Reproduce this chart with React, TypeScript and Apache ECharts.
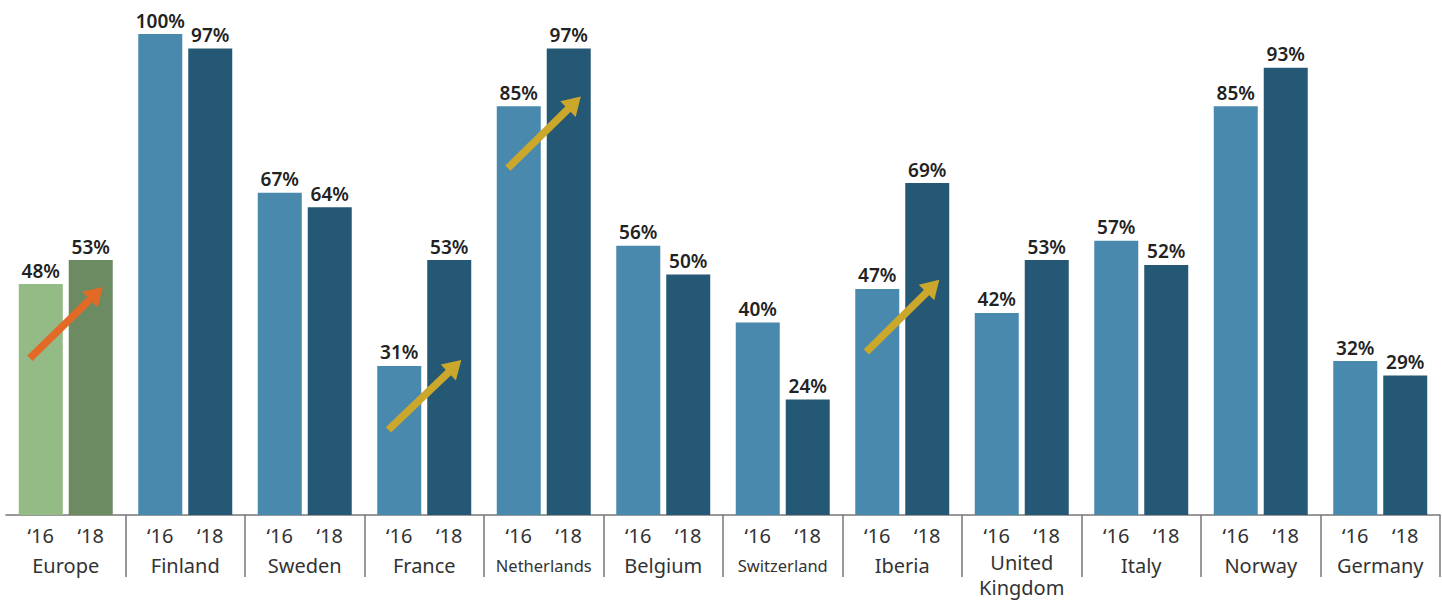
import React, { useEffect, useRef } from "react";
import * as echarts from "echarts";

const categories = ["Europe", "Finland", "Sweden", "France", "Netherlands", "Belgium", "Switzerland", "Iberia", "United Kingdom", "Italy", "Norway", "Germany"];
const values2016 = [48, 100, 67, 31, 85, 56, 40, 47, 42, 57, 85, 32];
const values2018 = [53, 97, 64, 53, 97, 50, 24, 69, 53, 52, 93, 29];
const yearLabels = ["‘16", "‘18"];

// arrows: [categoryIndex, startValue, endValue]
const arrowCategories = [0, 3, 4, 7];
const arrowStartValues = [32.6, 17.7, 72.1, 33.9];
const arrowEndValues = [47.4, 32.2, 87.0, 48.9];
const arrowColors = ["#e36a26", "#cba82c", "#cba82c", "#cba82c"];

const BLUE16 = "#4a89ae";
const BLUE18 = "#255874";
const GREEN16 = "#94ba86";
const GREEN18 = "#6c8b63";

const FONT = "'Noto Sans', sans-serif";

export default function App() {
  const ref = useRef<HTMLDivElement>(null);
  useEffect(() => {
    if (!ref.current) return;
    const chart = echarts.init(ref.current, null, { renderer: "svg" });
    const labelCfg = {
      show: true,
      position: "top",
      distance: 4,
      formatter: "{c}%",
      fontFamily: FONT,
      fontSize: 19,
      fontWeight: 600,
      color: "#222",
    };
    const arrowData = arrowCategories.map((c, i) => [c, arrowStartValues[i], arrowEndValues[i], i]);
    chart.setOption({
      animation: false,
      grid: { left: 6, right: 2, top: 34, bottom: 86 },
      xAxis: {
        type: "category",
        data: categories,
        axisLine: { show: true, lineStyle: { color: "#777", width: 1.5 } },
        axisTick: {
          show: true,
          length: 62,
          interval: (index: number) => index !== 0,
          lineStyle: { color: "#777", width: 1.5 },
        },
        axisLabel: {
          interval: 0,
          margin: 5,
          color: "#333",
          fontFamily: FONT,
          formatter: (v: string) => {
            const yr = `{y|${yearLabels[0]}}{y|${yearLabels[1]}}`;
            let name;
            if (v === "United Kingdom") name = "{u|United}\n{u|Kingdom}";
            else if (v === "Netherlands" || v === "Switzerland") name = `{s|${v}}`;
            else name = `{c|${v}}`;
            return yr + "\n" + name;
          },
          rich: {
            y: { width: 50, align: "center", fontSize: 20, fontFamily: FONT, color: "#333", lineHeight: 30 },
            c: { fontSize: 20, fontFamily: FONT, color: "#333", lineHeight: 30 },
            u: { fontSize: 20, fontFamily: FONT, color: "#333", lineHeight: 25 },
            s: { fontSize: 16.5, fontFamily: FONT, color: "#333", lineHeight: 30 },
          },
        },
      },
      yAxis: { type: "value", min: 0, max: 100, show: false },
      series: [
        {
          type: "bar",
          name: "2016",
          barWidth: 44,
          barGap: "13.6%",
          data: values2016.map((v, i) => ({ value: v, itemStyle: { color: i === 0 ? GREEN16 : BLUE16 } })),
          label: labelCfg,
        },
        {
          type: "bar",
          name: "2018",
          barWidth: 44,
          data: values2018.map((v, i) => ({ value: v, itemStyle: { color: i === 0 ? GREEN18 : BLUE18 } })),
          label: labelCfg,
        },
        {
          type: "custom",
          data: arrowData,
          z: 10,
          renderItem: (params: any, api: any) => {
            const cat = api.value(0);
            const band = api.size([1, 0])[0];
            const p0 = api.coord([cat, api.value(1)]);
            const p1 = api.coord([cat, api.value(2)]);
            const x0 = p0[0] - band * 0.3;
            const y0 = p0[1];
            const x1 = p1[0] + band * 0.31;
            const y1 = p1[1];
            const dx = x1 - x0;
            const dy = y1 - y0;
            const len = Math.sqrt(dx * dx + dy * dy);
            const ux = dx / len;
            const uy = dy / len;
            const px = -uy;
            const py = ux;
            const headLen = 18;
            const headHalf = 11;
            const bx = x1 - ux * headLen;
            const by = y1 - uy * headLen;
            const color = arrowColors[api.value(3)];
            return {
              type: "group",
              children: [
                {
                  type: "line",
                  shape: { x1: x0, y1: y0, x2: bx + ux * 2, y2: by + uy * 2 },
                  style: { stroke: color, lineWidth: 7.5 },
                },
                {
                  type: "polygon",
                  shape: {
                    points: [
                      [x1, y1],
                      [bx + px * headHalf, by + py * headHalf],
                      [bx - px * headHalf, by - py * headHalf],
                    ],
                  },
                  style: { fill: color },
                },
              ],
            };
          },
        },
      ],
    });
    return () => chart.dispose();
  }, []);
  return <div ref={ref} style={{ position: "fixed", left: 0, top: 0, width: 1442, height: 601, background: "#fff" }} />;
}
